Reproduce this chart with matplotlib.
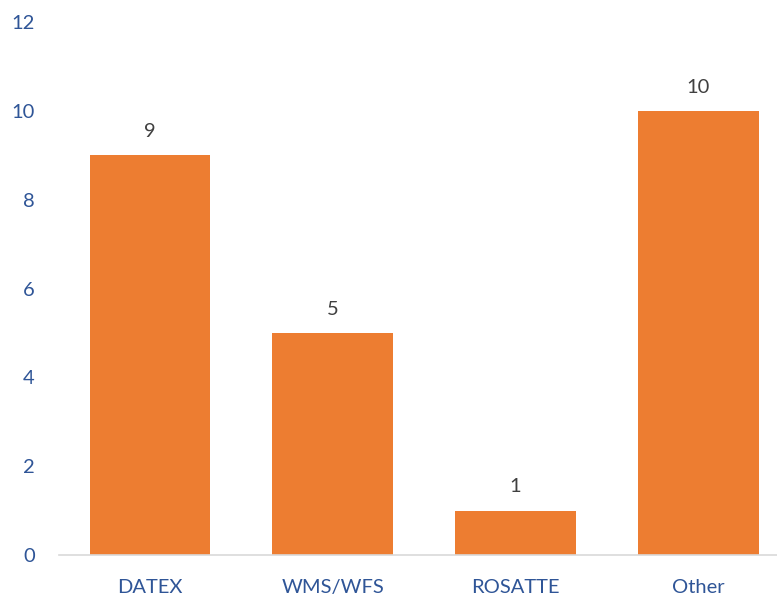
import matplotlib
matplotlib.use("Agg")
import matplotlib.pyplot as plt

categories = ["DATEX", "WMS/WFS", "ROSATTE", "Other"]
values = [9, 5, 1, 10]
yticks = [0, 2, 4, 6, 8, 10, 12]

plt.rcParams['font.family'] = ['Lato', 'DejaVu Sans']

fig = plt.figure(figsize=(7.77, 5.99), dpi=100)
ax = fig.add_axes([58.6/777, 44/599, 1 - 58.6/777, (555-22)/599])

x = range(len(categories))
bars = ax.bar(x, values, width=0.66, color="#ED7D31", zorder=2)
for xi, v in zip(x, values):
    ax.annotate(str(v), (xi, v), xytext=(0, 11), textcoords="offset points",
                ha="center", va="bottom", fontsize=14.5, color="#404040")

ax.set_xlim(-0.5, 3.43)
ax.set_ylim(0, 12)
ax.set_yticks(yticks)
ax.set_xticks(list(x))
ax.set_xticklabels(categories)
for s in ["top", "right", "left"]:
    ax.spines[s].set_visible(False)
ax.spines["bottom"].set_color("#D9D9D9")
ax.spines["bottom"].set_linewidth(1.2)
ax.tick_params(axis="both", length=0, labelsize=14.5, colors="#2F5597")
ax.tick_params(axis="x", pad=17)
ax.tick_params(axis="y", pad=17)

fig.savefig("out.png", dpi=100)
